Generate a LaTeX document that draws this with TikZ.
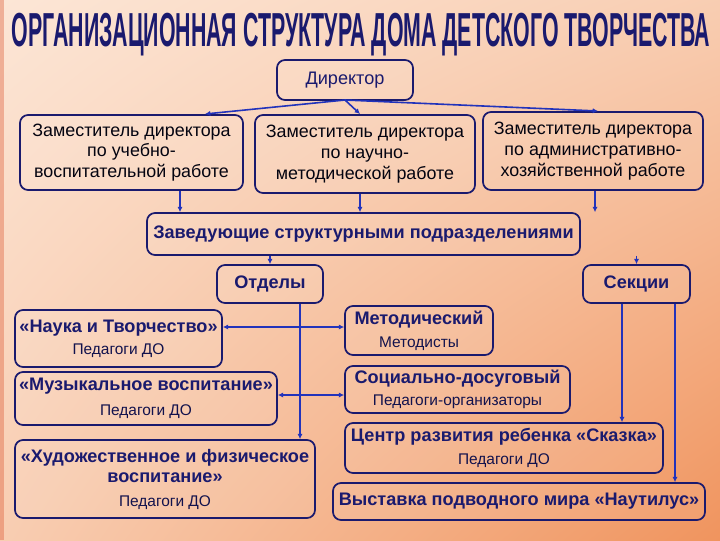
\documentclass[tikz,border=0pt]{standalone}
\usepackage{fontspec}
\setmainfont{Liberation Sans}
\usetikzlibrary{arrows.meta,shadings}
\definecolor{navy}{HTML}{1A1A6E}
\definecolor{arr}{HTML}{2233BB}
\definecolor{bgA}{HTML}{FCE6D6}
\definecolor{bgB}{HTML}{F0945E}
\newcommand{\subt}{\mdseries\fontsize{11.6}{13}\selectfont\color{navy!70!black}}
\tikzset{
 bx/.style={draw=navy,line width=1.3pt,rounded corners=6pt,fill=white,fill opacity=0.08,text opacity=1,align=center,text=navy,font=\bfseries\fontsize{13.6}{15.5}\selectfont,inner sep=0pt},
 zm/.style={bx,font=\fontsize{13.4}{15.5}\selectfont,text=black!85!navy},
 ar/.style={draw=arr,line width=1.2pt,-{Latex[length=4pt,width=4pt]}},
}
\begin{document}
\begin{tikzpicture}[x=0.75pt,y=-0.75pt]
\useasboundingbox (0,0) rectangle (720,540);
\shade[upper left=bgA,upper right=bgA!70!bgB,lower left=bgA!70!bgB,lower right=bgB] (0,0) rectangle (720,540);
\fill[red!40!brown,opacity=0.35] (0,0) rectangle (4,540);
\node[text=navy,inner sep=0pt] (title) at (361,35) {\resizebox{524pt}{25pt}{\bfseries ОРГАНИЗАЦИОННАЯ СТРУКТУРА ДОМА ДЕТСКОГО ТВОРЧЕСТВА}};
\node[bx,minimum width=136*0.75pt,minimum height=40*0.75pt] (dir) at (345,80) {\mdseries Директор};
\node[zm,minimum width=223*0.75pt,minimum height=75*0.75pt] (z1) at (131.5,152.5) {Заместитель директора\\по учебно-\\воспитательной работе};
\node[zm,minimum width=220*0.75pt,minimum height=78*0.75pt] (z2) at (365,154) {Заместитель директора\\по научно-\\методической работе};
\node[zm,minimum width=220*0.75pt,minimum height=78*0.75pt] (z3) at (593,151) {Заместитель директора\\по административно-\\хозяйственной работе};
\node[bx,minimum width=433*0.75pt,minimum height=42*0.75pt] (zav) at (363.5,234) {Заведующие структурными подразделениями};
\node[bx,minimum width=106*0.75pt,minimum height=38*0.75pt] (otd) at (270,284) {Отделы};
\node[bx,minimum width=107*0.75pt,minimum height=38*0.75pt] (sek) at (636.5,284) {Секции};
\node[bx,minimum width=207*0.75pt,minimum height=57*0.75pt] (nauka) at (118.5,338.5) {«Наука и Творчество»\\[1pt]{\subt Педагоги ДО}};
\node[bx,minimum width=262*0.75pt,minimum height=53*0.75pt] (muz) at (146,398.5) {«Музыкальное воспитание»\\[3pt]{\subt Педагоги ДО}};
\node[bx,minimum width=300*0.75pt,minimum height=78*0.75pt] (hud) at (165,479) {«Художественное и физическое\\воспитание»\\[2pt]{\subt Педагоги ДО}};
\node[bx,minimum width=148*0.75pt,minimum height=49*0.75pt] (met) at (419,330.5) {Методический\\[2pt]{\subt Методисты}};
\node[bx,minimum width=225*0.75pt,minimum height=47*0.75pt] (soc) at (457.5,389.5) {Социально-досуговый\\[1pt]{\subt Педагоги-организаторы}};
\node[bx,minimum width=318*0.75pt,minimum height=50*0.75pt] (cen) at (504,448) {Центр развития ребенка «Сказка»\\[2pt]{\subt Педагоги ДО}};
\node[bx,minimum width=372*0.75pt,minimum height=37*0.75pt] (vys) at (519,501.5) {Выставка подводного мира «Наутилус»};
% connectors
\coordinate (d0) at (345,100);
\draw[ar] (d0) -- (205,114);
\draw[ar] (d0) -- (598,111);
\draw[ar] (d0) -- (360,114);
\draw[ar] (z1.south -| 180,0) -- (zav.north -| 180,0);
\draw[ar] (z2.south -| 360,0) -- (zav.north -| 360,0);
\draw[ar] (z3.south -| 595,0) -- (zav.north -| 595,0);
\draw[ar] (zav.south -| otd) -- (otd.north);
\draw[ar] (zav.south -| sek) -- (sek.north);
\draw[ar] (otd.south -| 300,0) -- (hud.north -| 300,0);
\coordinate (j1) at (300,327);
\coordinate (j2) at (300,395);
\draw[ar] (j1) -- (nauka.east |- j1);
\draw[ar] (j1) -- (met.west |- j1);
\draw[ar] (j2) -- (muz.east |- j2);
\draw[ar] (j2) -- (soc.west |- j2);
\draw[ar] (sek.south -| 622,0) -- (cen.north -| 622,0);
\draw[ar] (sek.south -| 675,0) -- (vys.north -| 675,0);
\end{tikzpicture}
\end{document}
